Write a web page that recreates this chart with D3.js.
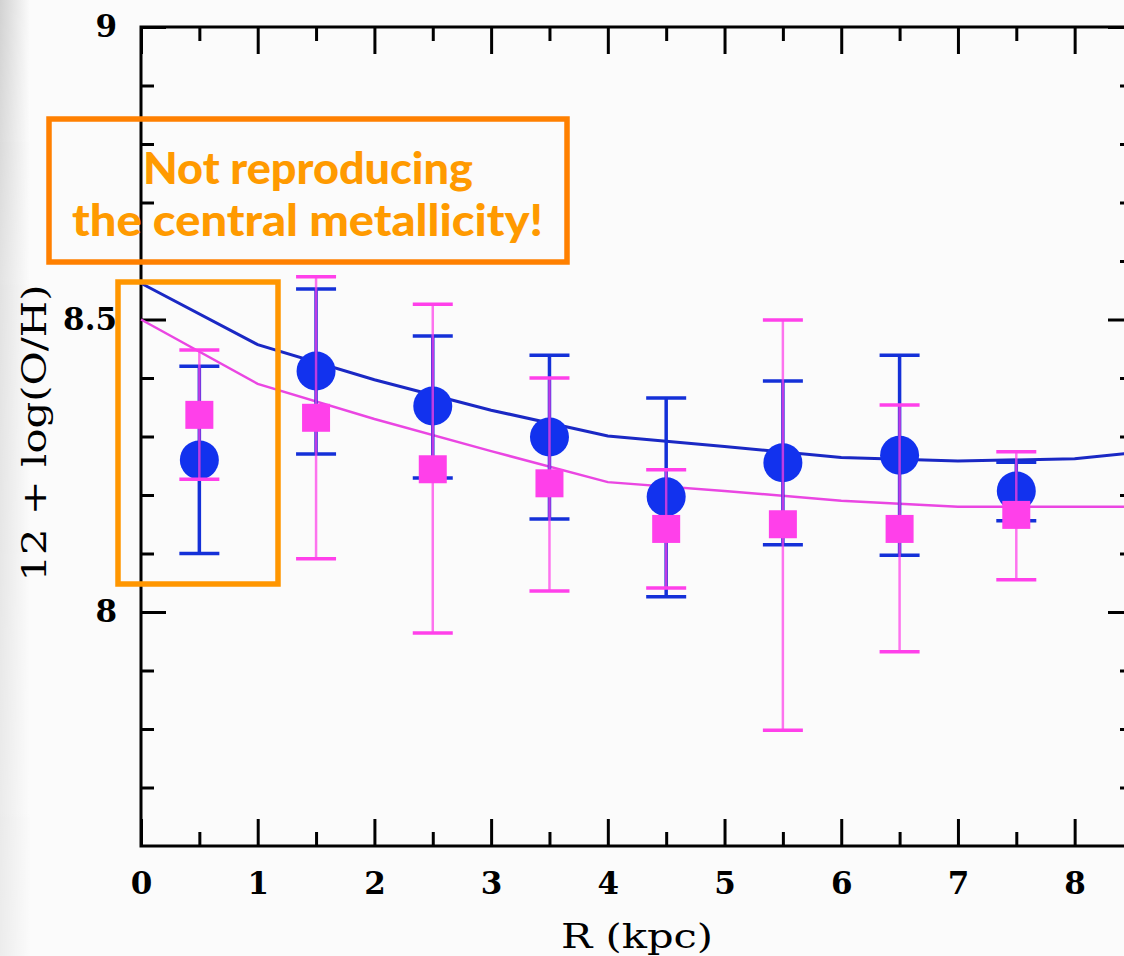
<!DOCTYPE html>
<html>
<head>
<meta charset="utf-8">
<script src="https://cdn.jsdelivr.net/npm/d3@7"></script>
<style>
  html, body { margin: 0; padding: 0; background: #fbfbfb; overflow: hidden; }
  svg { display: block; }
</style>
</head>
<body>
<script>
// Radial oxygen abundance profile: binned measurements with error bars and two model curves.

// Bin centres (kpc)
const radius = [0.5, 1.5, 2.5, 3.5, 4.5, 5.5, 6.5, 7.5];

// Blue sample (circles): value, upper and lower error bounds
const blueVal = [8.26, 8.412, 8.352, 8.299, 8.197, 8.255, 8.268, 8.207];
const blueHi  = [8.42, 8.552, 8.472, 8.439, 8.366, 8.395, 8.439, 8.256];
const blueLo  = [8.10, 8.270, 8.229, 8.159, 8.026, 8.115, 8.097, 8.156];

// Magenta sample (squares): value, upper and lower error bounds
const pinkVal = [8.337, 8.332, 8.244, 8.220, 8.142, 8.150, 8.142, 8.166];
const pinkHi  = [8.448, 8.573, 8.526, 8.400, 8.243, 8.499, 8.354, 8.274];
const pinkLo  = [8.227, 8.091, 7.964, 8.036, 8.041, 7.798, 7.932, 8.055];

// Model gradients
const modelR     = [0, 1, 2, 3, 4, 5, 6, 7, 8, 8.5];
const blueModel  = [8.562, 8.457, 8.397, 8.345, 8.301, 8.283, 8.264, 8.258, 8.262, 8.272];
const pinkModel  = [8.50, 8.39, 8.33, 8.275, 8.222, 8.207, 8.19, 8.18, 8.18, 8.18];

// Axis ticks
const xMajorTicks = [0, 1, 2, 3, 4, 5, 6, 7, 8];
const xMinorTicks = [0.5, 1.5, 2.5, 3.5, 4.5, 5.5, 6.5, 7.5];
const yMajorTicks = [8, 8.5, 9];
const yMinorTicks = [7.7, 7.8, 7.9, 8.1, 8.2, 8.3, 8.4, 8.6, 8.7, 8.8, 8.9];
const yTickLabels = ["8", "8.5", "9"];

const W = 1124, H = 956;
const frame = { left: 141, right: 1133, top: 27, bottom: 846 };

const x = d3.scaleLinear().domain([0, 8.5]).range([frame.left, frame.right]);
const y = d3.scaleLinear().domain([7.6, 9]).range([frame.bottom, frame.top]);

const svg = d3.select("body").append("svg")
  .attr("width", W).attr("height", H);

// Slide backdrop with a soft grey edge on the left
const defs = svg.append("defs");
const edgeH = defs.append("linearGradient").attr("id", "edgeH")
  .attr("x1", 0).attr("y1", 0).attr("x2", 1).attr("y2", 0);
edgeH.append("stop").attr("offset", 0).attr("stop-color", "#d2d2d2");
edgeH.append("stop").attr("offset", 0.3).attr("stop-color", "#dedede");
edgeH.append("stop").attr("offset", 1).attr("stop-color", "#fbfbfb");
const fadeV = defs.append("linearGradient").attr("id", "fadeV")
  .attr("x1", 0).attr("y1", 0).attr("x2", 0).attr("y2", 1);
fadeV.append("stop").attr("offset", 0).attr("stop-color", "#fff");
fadeV.append("stop").attr("offset", 0.3).attr("stop-color", "#fff").attr("stop-opacity", 0.6);
fadeV.append("stop").attr("offset", 1).attr("stop-color", "#fff").attr("stop-opacity", 0.35);
defs.append("mask").attr("id", "edgeMask")
  .append("rect").attr("x", 0).attr("y", 0).attr("width", 30).attr("height", H)
  .attr("fill", "url(#fadeV)");

svg.append("rect").attr("width", W).attr("height", H).attr("fill", "#fbfbfb");
svg.append("rect").attr("x", 0).attr("y", 0).attr("width", 30).attr("height", H)
  .attr("fill", "url(#edgeH)").attr("mask", "url(#edgeMask)");

const tickFont = "'DejaVu Serif', 'Liberation Serif', serif";

// Axes: ticks point inward on all four sides
function styleAxis(g, width) {
  g.select(".domain").remove();
  g.selectAll(".tick line").attr("stroke", "#000").attr("stroke-width", width);
  g.selectAll(".tick text").attr("fill", "#000")
    .style("font-family", tickFont).style("font-weight", "bold").style("font-size", "31px");
}

svg.append("g").attr("transform", `translate(0,${frame.bottom})`)
  .call(d3.axisBottom(x).tickValues(xMajorTicks).tickSize(-27).tickPadding(26)
    .tickFormat(d3.format("d")))
  .call(g => styleAxis(g, 3));
svg.append("g").attr("transform", `translate(0,${frame.bottom})`)
  .call(d3.axisBottom(x).tickValues(xMinorTicks).tickSize(-14).tickFormat(""))
  .call(g => styleAxis(g, 3));
svg.append("g").attr("transform", `translate(0,${frame.top})`)
  .call(d3.axisTop(x).tickValues(xMajorTicks).tickSize(-27).tickFormat(""))
  .call(g => styleAxis(g, 3));
svg.append("g").attr("transform", `translate(0,${frame.top})`)
  .call(d3.axisTop(x).tickValues(xMinorTicks).tickSize(-14).tickFormat(""))
  .call(g => styleAxis(g, 3));

svg.append("g").attr("transform", `translate(${frame.left},0)`)
  .call(d3.axisLeft(y).tickValues(yMajorTicks).tickSize(-25).tickPadding(24)
    .tickFormat((d, i) => yTickLabels[i]))
  .call(g => styleAxis(g, 3));
svg.append("g").attr("transform", `translate(${frame.left},0)`)
  .call(d3.axisLeft(y).tickValues(yMinorTicks).tickSize(-13).tickFormat(""))
  .call(g => styleAxis(g, 3));
svg.append("g").attr("transform", `translate(${frame.right},0)`)
  .call(d3.axisRight(y).tickValues(yMajorTicks).tickSize(-25).tickFormat(""))
  .call(g => styleAxis(g, 3));
svg.append("g").attr("transform", `translate(${frame.right},0)`)
  .call(d3.axisRight(y).tickValues(yMinorTicks).tickSize(-13).tickFormat(""))
  .call(g => styleAxis(g, 3));

// Plot frame
svg.append("rect")
  .attr("x", frame.left).attr("y", frame.top)
  .attr("width", frame.right - frame.left).attr("height", frame.bottom - frame.top)
  .attr("fill", "none").attr("stroke", "#000").attr("stroke-width", 3);

// Axis titles
svg.append("text")
  .attr("x", 637).attr("y", 948).attr("text-anchor", "middle")
  .attr("textLength", 152).attr("lengthAdjust", "spacingAndGlyphs")
  .style("font-family", tickFont).style("font-size", "33px").attr("fill", "#000")
  .text("R (kpc)");
svg.append("text")
  .attr("transform", "translate(46,433) rotate(-90)")
  .attr("text-anchor", "middle")
  .attr("textLength", 297).attr("lengthAdjust", "spacingAndGlyphs")
  .style("font-family", tickFont).style("font-size", "33px").attr("fill", "#000")
  .text("12 + log(O/H)");

// Model curves
const line = d3.line().x(d => x(d[0])).y(d => y(d[1]));
svg.append("path").datum(modelR.map((r, i) => [r, blueModel[i]]))
  .attr("d", line).attr("fill", "none").attr("stroke", "#1a28c4").attr("stroke-width", 3);
svg.append("path").datum(modelR.map((r, i) => [r, pinkModel[i]]))
  .attr("d", line).attr("fill", "none").attr("stroke", "#ea46e2").attr("stroke-width", 2.5);

const CAP = 20;
const blueCol = "#1232ee", pinkCol = "#ff40ea";

// Blue circles
svg.append("g").selectAll("circle").data(radius).join("circle")
  .attr("cx", d => x(d)).attr("cy", (d, i) => y(blueVal[i]))
  .attr("r", 19.5).attr("fill", blueCol);

// Error bars
function errorBars(lo, hi, color, w, opacity) {
  const g = svg.append("g");
  g.selectAll("line.v").data(radius).join("line").attr("class", "v")
    .attr("x1", d => x(d)).attr("x2", d => x(d))
    .attr("y1", (d, i) => y(lo[i])).attr("y2", (d, i) => y(hi[i]))
    .attr("stroke", color).attr("stroke-width", w).attr("opacity", opacity);
  [lo, hi].forEach(arr => {
    g.selectAll(null).data(radius).join("line")
      .attr("x1", d => x(d) - CAP).attr("x2", d => x(d) + CAP)
      .attr("y1", (d, i) => y(arr[i])).attr("y2", (d, i) => y(arr[i]))
      .attr("stroke", color).attr("stroke-width", 3.5);
  });
}
errorBars(blueLo, blueHi, "#1430d8", 3.5, 1);
errorBars(pinkLo, pinkHi, pinkCol, 2.5, 0.72);

// Magenta squares
const S = 28;
svg.append("g").selectAll("rect").data(radius).join("rect")
  .attr("x", d => x(d) - S / 2).attr("y", (d, i) => y(pinkVal[i]) - S / 2)
  .attr("width", S).attr("height", S).attr("fill", pinkCol);

// Annotation boxes
const annFont = "'Comic Sans MS', 'Lato', 'DejaVu Sans', sans-serif";
svg.append("rect").attr("x", 49).attr("y", 119).attr("width", 518).attr("height", 143)
  .attr("fill", "none").attr("stroke", "#ff8000").attr("stroke-width", 5.5);
svg.append("rect").attr("x", 118).attr("y", 282).attr("width", 160).attr("height", 302)
  .attr("fill", "none").attr("stroke", "#ff9600").attr("stroke-width", 5.5);

svg.append("text").attr("x", 143).attr("y", 184)
  .attr("textLength", 330).attr("lengthAdjust", "spacingAndGlyphs")
  .style("font-family", annFont).style("font-weight", "900").style("font-size", "43px")
  .attr("fill", "#ff9a00").text("Not reproducing");
svg.append("text").attr("x", 72).attr("y", 236)
  .attr("textLength", 471).attr("lengthAdjust", "spacingAndGlyphs")
  .style("font-family", annFont).style("font-weight", "900").style("font-size", "43px")
  .attr("fill", "#ff9a00").text("the central metallicity!");
</script>
</body>
</html>
